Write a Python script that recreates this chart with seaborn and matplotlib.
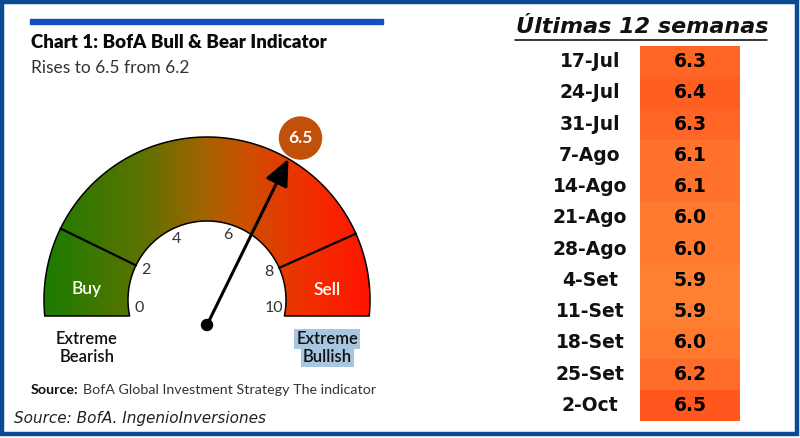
import numpy as np
import pandas as pd
import matplotlib
matplotlib.use("Agg")
import matplotlib.pyplot as plt
import seaborn as sns
from matplotlib.colors import LinearSegmentedColormap
from matplotlib.patches import Polygon, Circle, Rectangle
from matplotlib.lines import Line2D

# Data
weeks = ["17-Jul", "24-Jul", "31-Jul", "7-Ago", "14-Ago", "21-Ago",
         "28-Ago", "4-Set", "11-Set", "18-Set", "25-Set", "2-Oct"]
readings = [6.3, 6.4, 6.3, 6.1, 6.1, 6.0, 6.0, 5.9, 5.9, 6.0, 6.2, 6.5]
current = 6.5
previous = 6.2
gauge_ticks = [0, 2, 4, 6, 8, 10]
zone_edges = [2, 8]
zone_names = ["Buy", "Sell"]
zone_mid = [0.75, 9.25]
end_labels = [("Extreme", "Bearish"), ("Extreme", "Bullish")]

# gauge layout (pixels)
CX, CY = 207, 300
R_OUT, R_IN = 163, 79
BASE = 316
PIVOT = (207, 325)
TICK_ANGLES = [187, 154, 117, 72, 24, -7]

LEFT_FONT = ["Liberation Sans Narrow", "Lato", "DejaVu Sans"]

sns.set_theme(style="white")
plt.rcParams["font.family"] = ["DejaVu Sans"]


def ang(v):
    return np.radians(np.interp(v, gauge_ticks, TICK_ANGLES))


def pt(theta, r):
    return CX + r * np.cos(theta), CY - r * np.sin(theta)


fig = plt.figure(figsize=(8, 4.38), dpi=100)
ax = fig.add_axes([0, 0, 1, 1])

# gauge band with horizontal gradient
a_o = np.arcsin((BASE - CY) / R_OUT)
a_i = np.arcsin((BASE - CY) / R_IN)
t_out = np.linspace(-a_o, np.pi + a_o, 200)
t_in = np.linspace(np.pi + a_i, -a_i, 200)
verts = np.vstack([np.column_stack(pt(t_out, R_OUT)),
                   np.column_stack(pt(t_in, R_IN))])
band = Polygon(verts, closed=True, facecolor="none", edgecolor="black",
               lw=1.1, zorder=3)
ax.add_patch(band)
grad = LinearSegmentedColormap.from_list(
    "gauge", [(0, "#1C7C00"), (0.3, "#5C7300"), (0.5, "#A66200"),
              (0.62, "#CC5000"), (0.8, "#F03000"), (1.0, "#FF1400")])
img = ax.imshow(np.linspace(0, 1, 256)[None, :], cmap=grad, aspect="auto",
                extent=(CX - R_OUT, CX + R_OUT, BASE, CY - R_OUT), zorder=1)
img.set_clip_path(band)

for v in zone_edges:
    x0, y0 = pt(ang(v), R_IN)
    x1, y1 = pt(ang(v), R_OUT)
    ax.plot([x0, x1], [y0, y1], color="black", lw=1.6, zorder=4)

for v in gauge_ticks:
    x, y = pt(ang(v), 68)
    ax.text(x, y, str(v), ha="center", va="center", fontsize=11.5,
            color="#333333", family=LEFT_FONT, zorder=5)

for name, v in zip(zone_names, zone_mid):
    x, y = pt(ang(v), 121)
    ax.text(x, y, name, ha="center", va="center", fontsize=12.5,
            color="white", family=LEFT_FONT, weight="semibold", zorder=5)

# needle
tip = pt(ang(current), R_OUT)
ax.annotate("", xy=tip, xytext=PIVOT,
            arrowprops=dict(arrowstyle="-|>,head_length=0.9,head_width=0.4",
                            lw=2.2, color="black", shrinkA=0, shrinkB=0,
                            mutation_scale=18), zorder=6)
ax.add_patch(Circle(PIVOT, 5.5, color="black", zorder=7))

bx, by = pt(ang(current), 187)
ax.add_patch(Circle((bx, by), 21, color="#C0500A", zorder=6))
ax.text(bx, by, f"{current:.1f}", ha="center", va="center", fontsize=12.5,
        color="white", weight="bold", family=LEFT_FONT, zorder=7)

# end labels
for (l1, l2), v, hl in zip(end_labels, [0, 10], [False, True]):
    x = pt(ang(v), (R_IN + R_OUT) / 2)[0]
    for line, y in zip((l1, l2), (339, 357)):
        kw = {}
        if hl:
            kw["bbox"] = dict(boxstyle="square,pad=0.12", facecolor="#A8C6E2",
                              edgecolor="none")
        ax.text(x, y, line, ha="center", va="center", fontsize=12,
                color="#111111", family=LEFT_FONT, weight="semibold", **kw)

# titles
ax.add_patch(Rectangle((30, 19), 353, 5, color="#0F50C4", zorder=2))
ax.text(31, 43, "Chart 1: BofA Bull & Bear Indicator", ha="left", va="center",
        fontsize=13.5, weight="heavy", color="#0A0A0A", family=LEFT_FONT)
ax.text(31, 68, f"Rises to {current} from {previous}", ha="left", va="center",
        fontsize=12.5, color="#333333", family=LEFT_FONT)
src = ax.text(31, 390, "Source:", ha="left", va="center", fontsize=10.3,
              weight="bold", color="#111111", family=LEFT_FONT)
ax.annotate("BofA Global Investment Strategy The indicator", xy=(1, 0.5),
            xycoords=src, xytext=(3, 0), textcoords="offset points",
            ha="left", va="center", fontsize=10.3,
            color="#333333", family=LEFT_FONT)
ax.text(14, 418, "Source: BofA. IngenioInversiones", ha="left", va="center",
        fontsize=11, style="italic", color="#222222")

# right panel title
ax.text(642, 27, "Últimas 12 semanas", ha="center", va="center",
        fontsize=16, weight="bold", style="italic", color="#111111")
ax.add_line(Line2D([515, 767], [39.5, 39.5], color="black", lw=1.1))

# frame
ax.add_patch(Rectangle((2, 2), 795, 432, facecolor="none",
                       edgecolor="#0C4A96", lw=3.2, zorder=10))

ax.set_xlim(0, 800)
ax.set_ylim(438, 0)
ax.axis("off")

# weekly table as heatmap
df = pd.DataFrame({"valor": readings}, index=weeks)
hax = fig.add_axes([640 / 800, 1 - 421 / 438, 100 / 800, 375 / 438])
cmap = LinearSegmentedColormap.from_list("naranja", ["#FF8032", "#FF571E"])
sns.heatmap(df, ax=hax, cmap=cmap, vmin=5.9, vmax=6.5, annot=True, fmt=".1f",
            cbar=False, xticklabels=False, yticklabels=True,
            annot_kws=dict(color="black", fontsize=13.5, fontweight="bold"))
hax.set_ylabel("")
hax.tick_params(axis="y", length=0, pad=36, labelsize=13.5)
for lbl in hax.get_yticklabels():
    lbl.set_ha("center")
    lbl.set_rotation(0)
    lbl.set_fontweight("bold")
    lbl.set_color("#111111")

fig.savefig("out.png", dpi=100)
